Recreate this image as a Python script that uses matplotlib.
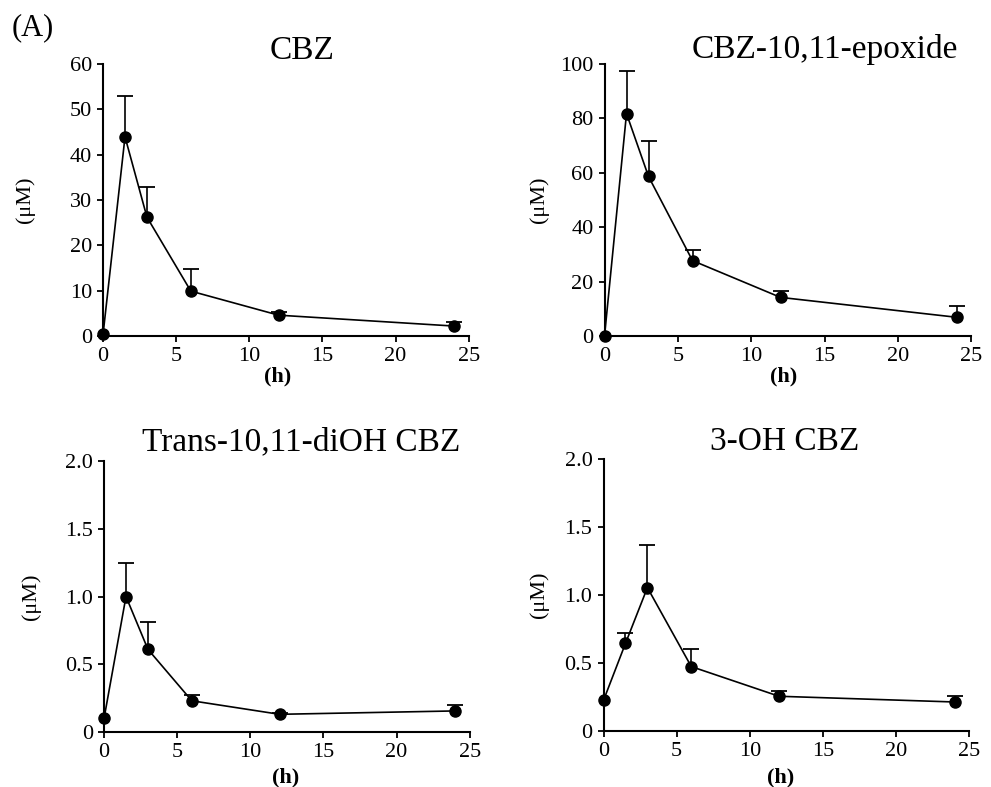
import numpy as np
import matplotlib
matplotlib.use("Agg")
import matplotlib.pyplot as plt

plt.rcParams['font.family'] = ['Liberation Serif', 'DejaVu Serif']

# sampling times (h)
times = [0, 1.5, 3, 6, 12, 24]

# mean concentrations (uM) and upper SD
cbz_mean = [0.4, 43.9, 26.2, 9.9, 4.6, 2.2]
cbz_sd = [0, 9.1, 6.6, 4.8, 0.6, 0.9]
epox_mean = [0.0, 81.7, 58.6, 27.7, 14.2, 6.9]
epox_sd = [0, 15.6, 13.1, 4.0, 2.4, 4.3]
diol_mean = [0.10, 1.00, 0.61, 0.23, 0.13, 0.155]
diol_sd = [0, 0.25, 0.205, 0.045, 0.012, 0.047]
oh3_mean = [0.226, 0.644, 1.054, 0.474, 0.256, 0.214]
oh3_sd = [0, 0.078, 0.31, 0.128, 0.036, 0.044]

titles = ["CBZ", "CBZ-10,11-epoxide", "Trans-10,11-diOH CBZ", "3-OH CBZ"]
x_ticks = [0, 5, 10, 15, 20, 25]
y_ticks = [[0, 10, 20, 30, 40, 50, 60],
           [0, 20, 40, 60, 80, 100],
           [0, 0.5, 1.0, 1.5, 2.0],
           [0, 0.5, 1.0, 1.5, 2.0]]
y_ticklabels = [["0", "10", "20", "30", "40", "50", "60"],
                ["0", "20", "40", "60", "80", "100"],
                ["0", "0.5", "1.0", "1.5", "2.0"],
                ["0", "0.5", "1.0", "1.5", "2.0"]]
means = [cbz_mean, epox_mean, diol_mean, oh3_mean]
sds = [cbz_sd, epox_sd, diol_sd, oh3_sd]

fig = plt.figure(figsize=(9.91, 7.87), dpi=100)

# axes rectangles [left, bottom, width, height]
rects = [[0.104, 0.573, 0.369, 0.346],
         [0.610, 0.573, 0.370, 0.346],
         [0.105, 0.070, 0.369, 0.344],
         [0.609, 0.071, 0.369, 0.346]]
title_x = [0.544, 0.60, 0.538, 0.495]
title_y = [1.018, 1.022, 1.04, 1.033]
xlab_pos = [(0.478, -0.15), (0.488, -0.15), (0.497, -0.17), (0.484, -0.17)]
ylab_x = [-0.213, -0.177, -0.20, -0.175]

for i in range(4):
    ax = fig.add_axes(rects[i])
    m = np.array(means[i])
    sd = np.array(sds[i])
    # upper error bars only
    ax.vlines(times, m, m + sd, color='black', lw=1.2)
    has_sd = sd > 0
    ax.plot(np.array(times)[has_sd], (m + sd)[has_sd], ls='none', marker='_',
            ms=12, mew=1.3, color='black')
    ax.plot(times, m, '-o', color='black', ms=8, lw=1.2, clip_on=False, zorder=3)
    ax.set_xlim(0, 25)
    ax.set_ylim(y_ticks[i][0], y_ticks[i][-1])
    ax.set_xticks(x_ticks)
    ax.set_yticks(y_ticks[i])
    ax.set_yticklabels(y_ticklabels[i])
    ax.spines['top'].set_visible(False)
    ax.spines['right'].set_visible(False)
    ax.spines['left'].set_linewidth(1.5)
    ax.spines['bottom'].set_linewidth(1.5)
    ax.tick_params(direction='out', length=4, width=1.3, labelsize=16, pad=4)
    ax.text(title_x[i], title_y[i], titles[i], transform=ax.transAxes,
            ha='center', va='baseline', fontsize=24)
    ax.text(xlab_pos[i][0], xlab_pos[i][1], "(h)", transform=ax.transAxes,
            ha='center', va='center', fontsize=16, fontweight='bold')
    ax.text(ylab_x[i], 0.5, "(μM)", transform=ax.transAxes, rotation=90,
            ha='center', va='center', fontsize=16)

fig.text(0.012, 0.965, "(A)", ha='left', va='center', fontsize=22)

fig.savefig("out.png", dpi=100)
